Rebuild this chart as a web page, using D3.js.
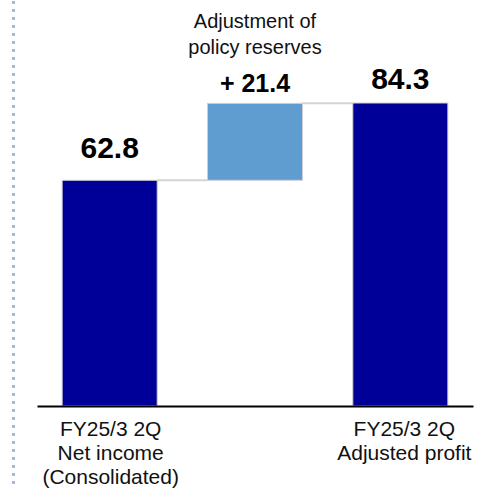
<!DOCTYPE html>
<html>
<head>
<meta charset="utf-8">
<script src="https://cdn.jsdelivr.net/npm/d3@7"></script>
<style>
  html, body { margin: 0; padding: 0; background: #fff; }
  svg { display: block; }
  text { font-family: "Liberation Sans", Arial, Helvetica, sans-serif; }
</style>
</head>
<body>
<svg id="chart" width="477" height="488"></svg>
<script>
// ---- data ----
const categories = ["netIncome", "adjustment", "adjusted"];
const tickLabels = [
  ["FY25/3 2Q", "Net income", "(Consolidated)"],
  [],
  ["FY25/3 2Q", "Adjusted profit"]
];
const barTypes = ["total", "delta", "total"];
const values = [62.8, 21.4, 84.3];
const valueLabels = ["62.8", "+ 21.4", "84.3"];
const deltaTitle = ["Adjustment of", "policy reserves"];

// ---- layout ----
const W = 477, H = 488;
const axisY = 406;
const svg = d3.select("#chart");

const x = d3.scaleBand().domain(categories).range([37, 473])
  .paddingInner(0.346).paddingOuter(0.173);
const y = d3.scaleLinear().domain([0, 84.3]).range([axisY, 103]);

// compute waterfall spans
let running = 0;
const bars = categories.map((c, i) => {
  let lo, hi;
  if (barTypes[i] === "total") { lo = 0; hi = values[i]; running = values[i]; }
  else { lo = running; hi = running + values[i]; running = hi; }
  return { c, i, lo, hi, type: barTypes[i] };
});

// left dotted separator
svg.append("line")
  .attr("x1", 13.5).attr("x2", 13.5).attr("y1", 1).attr("y2", H)
  .attr("stroke", "#a4b8dc").attr("stroke-width", 3)
  .attr("stroke-dasharray", "3,5");

// connectors
for (let i = 0; i < bars.length - 1; i++) {
  const a = bars[i], b = bars[i + 1];
  const lv = a.hi;
  svg.append("line")
    .attr("x1", x(a.c) + x.bandwidth()).attr("x2", x(b.c))
    .attr("y1", y(lv)).attr("y2", y(lv))
    .attr("stroke", "#d4d4d4").attr("stroke-width", 2);
}

// bars
svg.selectAll("rect.bar").data(bars).join("rect")
  .attr("class", "bar")
  .attr("x", d => x(d.c))
  .attr("width", x.bandwidth())
  .attr("y", d => y(d.hi))
  .attr("height", d => y(d.lo) - y(d.hi))
  .attr("fill", d => d.type === "total" ? "#000099" : "#5f9dd0")
  .attr("stroke", "#cfcfd6").attr("stroke-width", 1);

// axis
const axis = d3.axisBottom(x).tickSize(0).tickSizeOuter(0).tickFormat("");
const gAxis = svg.append("g").attr("transform", `translate(0,${axisY})`).call(axis);
gAxis.select(".domain").attr("stroke", "#000").attr("stroke-width", 2);

// multi-line tick labels
gAxis.selectAll(".tick").each(function(d, i) {
  const t = d3.select(this).append("text")
    .attr("text-anchor", "middle")
    .attr("fill", "#111")
    .attr("font-size", 21);
  tickLabels[i].forEach((ln, k) => {
    t.append("tspan").attr("x", i === 2 ? 4 : 1).attr("y", 30 + k * 24).text(ln);
  });
});

// value labels
const labelGap = [22, 11, 14];
const labelSize = [30, 25, 30];
svg.selectAll("text.val").data(bars).join("text")
  .attr("class", "val")
  .attr("x", d => x(d.c) + x.bandwidth() / 2)
  .attr("y", d => y(d.hi) - labelGap[d.i])
  .attr("text-anchor", "middle")
  .attr("font-weight", "bold")
  .attr("font-size", d => labelSize[d.i])
  .attr("fill", "#000")
  .text((d, i) => valueLabels[i]);

// delta title
const dt = svg.append("text")
  .attr("text-anchor", "middle")
  .attr("font-size", 20)
  .attr("fill", "#111");
deltaTitle.forEach((ln, k) => {
  dt.append("tspan")
    .attr("x", x("adjustment") + x.bandwidth() / 2)
    .attr("y", 28 + k * 25.5)
    .text(ln);
});
</script>
</body>
</html>
